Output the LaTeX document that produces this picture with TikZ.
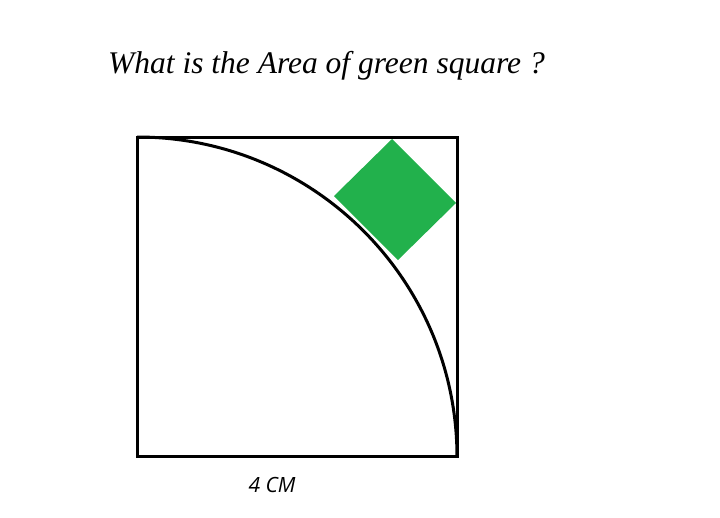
\documentclass[tikz,border=0pt]{standalone}
\usepackage{fontspec}
\setmainfont{Liberation Serif}
\newfontfamily\labelfont{Open Sans}
\definecolor{paintgreen}{RGB}{34,177,76}

\begin{document}
\begin{tikzpicture}[x=1pt,y=-1pt]
\useasboundingbox (0,0) rectangle (720,517);
% title and side label
\node (question) [anchor=base west, inner sep=0pt, font=\fontsize{31.5}{36}\selectfont\itshape] at (108,73) {What is the Area of green square ?};
\node (side) [anchor=base, inner sep=0pt, font=\fontsize{21}{25}\labelfont\itshape] at (272,492) {4 CM};
% figure
\fill [paintgreen] (392,139) -- (456,203) -- (398,260) -- (334,196) -- cycle;
\draw [line width=3pt] (137,137) rectangle (457,456);
\draw [line width=3pt] (137,137) arc[start angle=-90, end angle=0, radius=320];
\end{tikzpicture}
\end{document}
